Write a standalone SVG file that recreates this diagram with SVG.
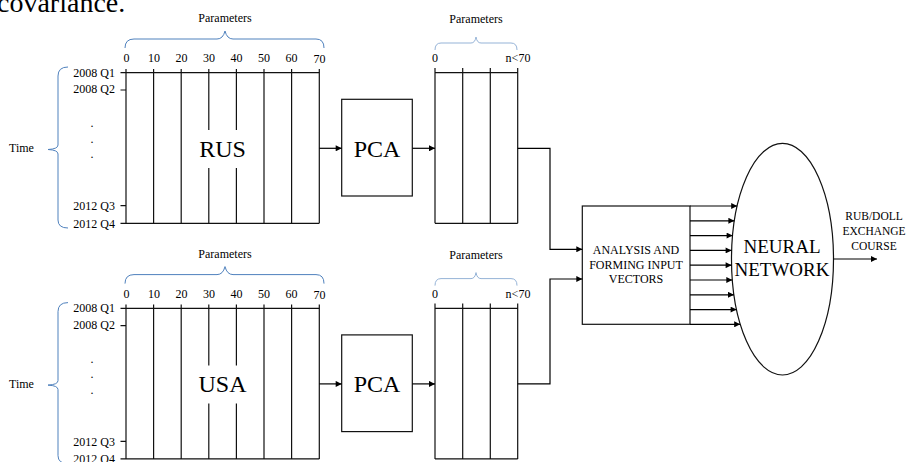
<svg xmlns="http://www.w3.org/2000/svg" width="913" height="462" viewBox="0 0 913 462">
<defs>
<style>
.t{font-family:"Liberation Serif","Times New Roman",serif;fill:#000}
.s12{font-size:12px}
.s11{font-size:11.5px}
.big{font-size:24px}
.ln{stroke:#111;stroke-width:1.2;fill:none}
.br{stroke:#4f81bd;stroke-width:1;fill:none}
.br2{stroke:#95b3d7;stroke-width:1;fill:none}
.arr{stroke:#000;stroke-width:1.2;fill:none;marker-end:url(#ah)}
</style>
<marker id="ah" viewBox="0 0 10 10" refX="10" refY="5" markerWidth="8" markerHeight="6" markerUnits="userSpaceOnUse" orient="auto">
<path d="M0,0 L10,5 L0,10 z" fill="#000"/>
</marker>
<g id="gridtpl">
<!-- parameter brace and labels -->
<text class="t s12" x="225" y="22" text-anchor="middle">Parameters</text>
<path class="br" d="M125,48 Q125,39 134,39 L217,39 Q223,39 225,31 Q227,39 233,39 L316,39 Q324,39 324,48"/>
<g class="t s12" text-anchor="middle">
<text x="126.5" y="62">0</text><text x="154" y="62">10</text><text x="181.5" y="62">20</text><text x="209" y="62">30</text>
<text x="236.5" y="62">40</text><text x="264" y="62">50</text><text x="291.5" y="62">60</text><text x="319.5" y="63">70</text>
</g>
<!-- time brace -->
<path class="br" d="M68,67 Q58,67 58,76 L58,145 Q58,149 48,149.5 Q58,150 58,154 L58,220 Q58,228 68,228"/>
<text class="t s12" x="9" y="152">Time</text>
<g class="t s12" text-anchor="end">
<text x="115" y="76.5">2008 Q1</text><text x="115" y="93">2008 Q2</text>
<text x="115" y="210">2012 Q3</text><text x="115" y="227.5">2012 Q4</text>
</g>
<g class="t s12" text-anchor="middle">
<text x="92" y="127">.</text><text x="92" y="142.5">.</text><text x="92" y="158">.</text>
</g>
<!-- grid -->
<path class="ln" d="M120.5,72.7 H319.3 M120.5,90 H126 M120.5,205.7 H126 M120.5,223.3 H319.3"/>
<path class="ln" d="M126,69 V223.3 M153.6,69 V223.3 M181.2,69 V223.3 M208.8,69 V130 M208.8,168 V223.3 M236.4,69 V130 M236.4,168 V223.3 M264,69 V223.3 M291.6,69 V223.3 M319.3,69 V223.3"/>
<!-- PCA box -->
<rect class="ln" x="341.7" y="99.3" width="70.6" height="96.7"/>
<text class="t big" x="377" y="156.5" text-anchor="middle">PCA</text>
<!-- reduced grid -->
<text class="t s12" x="476" y="23" text-anchor="middle">Parameters</text>
<path class="br2" d="M435,50 Q435,43 441,43 L471,43 Q475,43 476,37 Q477,43 481,43 L511,43 Q517,43 517,50"/>
<text class="t s12" x="435" y="62" text-anchor="middle">0</text>
<text class="t s12" x="518" y="62" text-anchor="middle">n&lt;70</text>
<path class="ln" d="M435,72.7 H517.7 M435,223.3 H517.7 M435,68 V223.3 M462.7,68 V223.3 M490.3,68 V223.3 M517.7,68 V223.3"/>
</g>
</defs>

<text class="t" x="-3" y="11.5" style="font-size:28px">covariance.</text>

<g id="rus">
<use href="#gridtpl"/>
<text class="t big" x="222.5" y="156.5" text-anchor="middle">RUS</text>
</g>
<g id="usa">
<use href="#gridtpl" transform="translate(0,235.6)"/>
<text class="t big" x="222.5" y="391.5" text-anchor="middle">USA</text>
</g>

<g id="analysis">
<rect class="ln" x="582.3" y="206" width="107.7" height="118.3"/>
<g class="t s12" text-anchor="middle">
<text x="636" y="253.5">ANALYSIS AND</text>
<text x="636" y="268.5">FORMING INPUT</text>
<text x="636" y="283">VECTORS</text>
</g>
</g>

<g id="network">
<ellipse class="ln" cx="782.5" cy="259.2" rx="51" ry="115.8"/>
<g class="t" style="font-size:19px" text-anchor="middle">
<text x="782" y="253">NEURAL</text>
<text x="782" y="275.5">NETWORK</text>
</g>
</g>

<g id="output">
<g class="t s11" text-anchor="middle">
<text x="874" y="220">RUB/DOLL</text>
<text x="874" y="234.5">EXCHANGE</text>
<text x="874" y="249.5">COURSE</text>
</g>
</g>

<g id="connectors">
<path class="arr" d="M319.3,148.3 H341.7"/>
<path class="arr" d="M412.3,148.3 H435"/>
<path class="arr" d="M319.3,383.9 H341.7"/>
<path class="arr" d="M412.3,383.9 H435"/>
<path class="arr" d="M517.7,148.3 H550 V249.3 H582.3"/>
<path class="arr" d="M517.7,383.9 H550 V279 H582.3"/>
<path class="arr" d="M690,206 H737.2"/>
<path class="arr" d="M690,220.8 H734.4"/>
<path class="arr" d="M690,235.6 H732.6"/>
<path class="arr" d="M690,250.4 H731.6"/>
<path class="arr" d="M690,265.2 H731.6"/>
<path class="arr" d="M690,280 H732.3"/>
<path class="arr" d="M690,294.8 H734"/>
<path class="arr" d="M690,309.6 H736.6"/>
<path class="arr" d="M690,324.3 H740.2"/>
<path class="arr" d="M833.5,259 H877"/>
</g>
</svg>
